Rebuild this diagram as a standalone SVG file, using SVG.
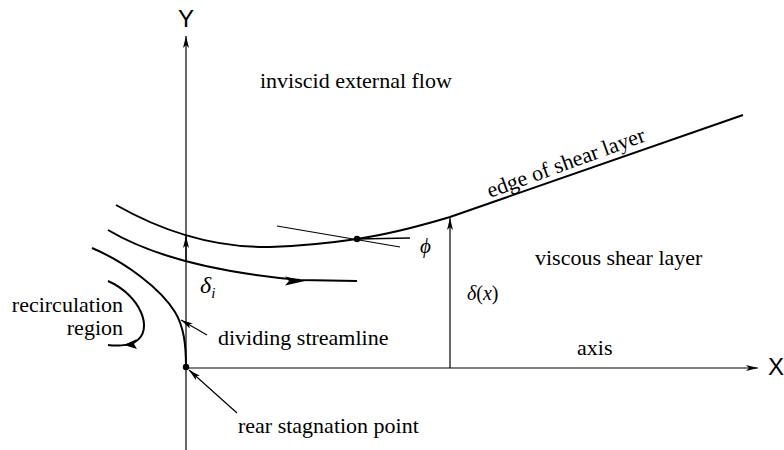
<svg xmlns="http://www.w3.org/2000/svg" width="784" height="450" viewBox="0 0 784 450">
<defs>
<marker id="ah" viewBox="0 0 12 6" refX="12" refY="3" markerWidth="12" markerHeight="6" markerUnits="userSpaceOnUse" orient="auto">
<path d="M0,0 L12,3 L0,6 L3,3 Z" fill="#000"/>
</marker>
<style>
.ln{fill:none;stroke:#000;stroke-width:1.2}
.th{fill:none;stroke:#000;stroke-width:2}
.t{font-family:"Liberation Serif",serif;font-size:22px;fill:#000}
.s{font-family:"Liberation Sans","DejaVu Sans",sans-serif;font-size:24px;fill:#000}
.m{font-family:"Liberation Serif",serif;font-style:italic;fill:#000}
</style>
</defs>
<rect width="784" height="450" fill="#fff"/>
<g id="axes">
<line class="ln" x1="186" y1="455" x2="186" y2="36" marker-end="url(#ah)"/>
<line class="ln" x1="186" y1="368" x2="758" y2="368" marker-end="url(#ah)"/>
<text class="s" x="186" y="27" text-anchor="middle">Y</text>
<text class="s" x="776" y="375" text-anchor="middle" font-size="20">X</text>
</g>
<g id="connectors">
<path id="edge" class="th" d="M116,205 C160,230 210,248 270,247 C300,246 330,243 357,239 C390,234 420,226 450,217 L743,115"/>
<path id="streamline" class="th" d="M108,230 C150,255 210,272 300,280 L357,281"/>
<path d="M305,281 L285,276.5 L289,281 L285,285.5 Z" fill="#000"/>
<path id="dividing" class="th" d="M92,248 C125,262 160,288 175,312 C184,327 186,345 186,367"/>
<path id="recirc" class="th" d="M108,281 C140,295 155,330 135,342 C128,346 115,346 108,345"/>
<path d="M124,345 L137,339 L134,344 L137,349 Z" fill="#000"/>
<line class="ln" x1="277" y1="226" x2="400" y2="247"/>
<line class="th" x1="357" y1="239" x2="410" y2="238" style="stroke-width:1.5"/>
<line class="ln" x1="450" y1="368" x2="450" y2="218" marker-end="url(#ah)"/>
<line class="ln" x1="186" y1="262" x2="186" y2="236" marker-end="url(#ah)"/>
<line class="ln" x1="207" y1="335" x2="181" y2="320" marker-end="url(#ah)"/>
<line class="ln" x1="237" y1="413" x2="189" y2="370" marker-end="url(#ah)"/>
<circle cx="186" cy="367" r="3.2" fill="#000"/>
<circle cx="357" cy="239" r="3.2" fill="#000"/>
</g>
<g id="labels">
<text class="t" x="260" y="88">inviscid external flow</text>
<text class="t" transform="translate(490,198) rotate(-20)">edge of shear layer</text>
<text class="t" x="535" y="265">viscous shear layer</text>
<text class="t" x="577" y="355">axis</text>
<text class="t" x="123" y="312" text-anchor="end">recirculation</text>
<text class="t" x="123" y="335" text-anchor="end">region</text>
<text class="t" x="218" y="345">dividing streamline</text>
<text class="t" x="238" y="433">rear stagnation point</text>
<text class="m" x="200" y="293" font-size="24">δ<tspan font-size="15" dy="5">i</tspan></text>
<text class="m" x="420" y="253" font-size="21">ϕ</text>
<text class="m" x="467" y="300" font-size="20">δ<tspan font-style="normal">(</tspan>x<tspan font-style="normal">)</tspan></text>
</g>
</svg>
